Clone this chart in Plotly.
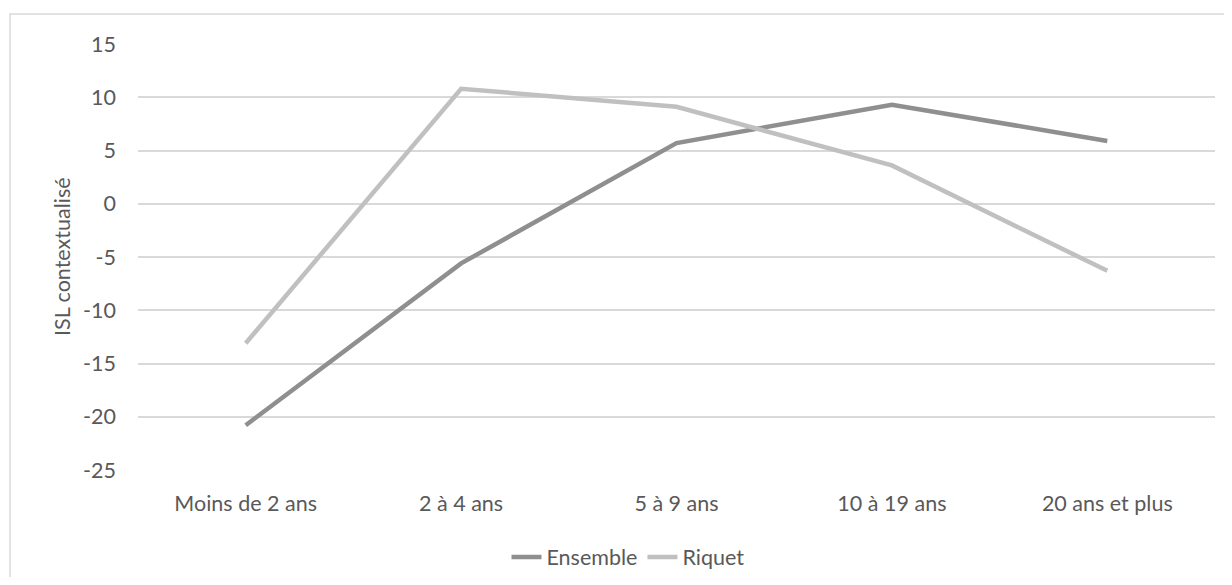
import plotly.graph_objects as go

categories = ["Moins de 2 ans", "2 à 4 ans", "5 à 9 ans", "10 à 19 ans", "20 ans et plus"]
ensemble = [-20.8, -5.6, 5.7, 9.3, 5.9]
riquet = [-13.1, 10.8, 9.1, 3.6, -6.3]
y_ticks = [15, 10, 5, 0, -5, -10, -15, -20, -25]
y_tick_text = [str(v) for v in y_ticks]

FONT = "Lato"
TXT = "#595959"
FS = 21.5

fig = go.Figure()
fig.add_trace(go.Scatter(x=categories, y=ensemble, name="Ensemble", mode="lines",
                         line=dict(color="#8f8f8f", width=4.5)))
fig.add_trace(go.Scatter(x=categories, y=riquet, name="Riquet", mode="lines",
                         line=dict(color="#c0c0c0", width=4.5)))

OFF = 8  # page body margin
# page coordinates of the plot area
L, R, T, B = 138 - OFF, 1215 - OFF, 44 - OFF, 470 - OFF
W, H = 1232 - 2 * OFF, 585 - 2 * OFF
pw, ph = R - L, B - T

def px(x):
    return (x - OFF - L) / pw

def py(y):
    return (B - (y - OFF)) / ph

fig.update_layout(
    width=W, height=H,
    margin=dict(l=L, r=W - R, t=T, b=H - B, autoexpand=False),
    paper_bgcolor="white", plot_bgcolor="white",
    font=dict(family=FONT, size=FS, color=TXT),
    showlegend=True,
    legend=dict(orientation="h", x=px(628), xanchor="center", y=py(557), yanchor="middle",
                font=dict(family=FONT, size=FS, color=TXT), itemwidth=30,
                tracegroupgap=0, bgcolor="rgba(0,0,0,0)"),
    xaxis=dict(range=[-0.5, 4.5], showgrid=False, showline=False, zeroline=False,
               ticks="", ticklabelstandoff=18, automargin=False,
               tickfont=dict(family=FONT, size=FS, color=TXT)),
    yaxis=dict(range=[-25, 15], tickvals=y_ticks, ticktext=y_tick_text,
               showgrid=True, gridcolor="#d9d9d9",
               gridwidth=1.5, zeroline=False, showline=False, ticks="",
               ticklabelstandoff=21, automargin=False,
               tickfont=dict(family=FONT, size=FS, color=TXT)),
    shapes=[dict(type="rect", xref="paper", yref="paper",
                 x0=px(10), x1=px(1260), y0=py(14), y1=py(620),
                 line=dict(color="#d9d9d9", width=1.5), layer="below")],
    annotations=[dict(text="ISL contextualisé", xref="paper", yref="paper",
                      x=px(62), y=py(257), textangle=-90, showarrow=False,
                      xanchor="center", yanchor="middle",
                      font=dict(family=FONT, size=FS, color=TXT))],
)

fig.write_html("out.html")
